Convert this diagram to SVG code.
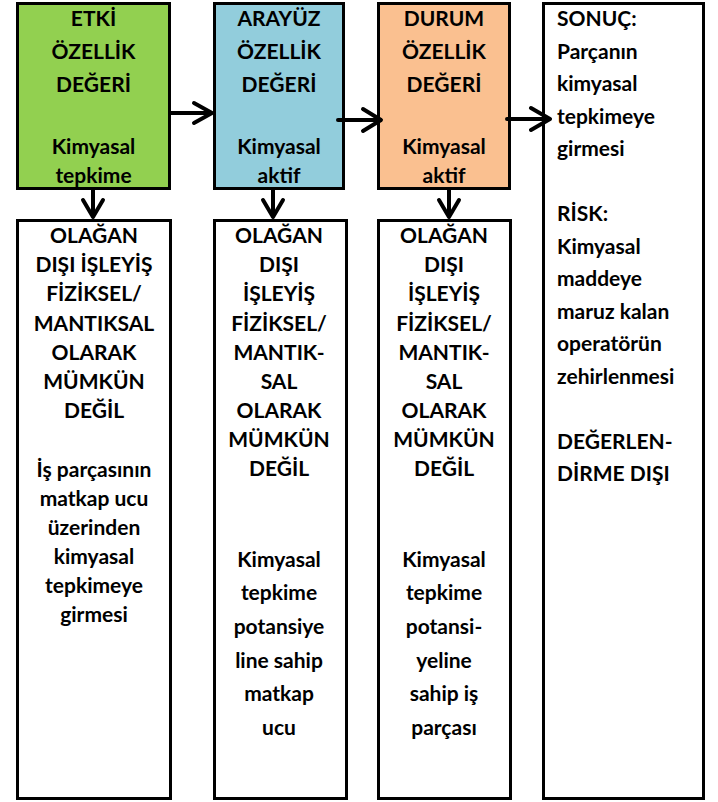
<svg xmlns="http://www.w3.org/2000/svg" width="718" height="802" viewBox="0 0 718 802">
<style>
.box{stroke:#000;stroke-width:3}
.t{font-family:Lato,"Liberation Sans",sans-serif;font-weight:bold;font-size:21px;fill:#000}
.c{text-anchor:middle}
.ar{fill:none;stroke:#000;stroke-width:4;stroke-linecap:round;stroke-linejoin:round}
</style>
<rect x="0" y="0" width="718" height="802" fill="#fff"/>
<g id="etki">
<rect class="box" x="17.5" y="3.5" width="152" height="185" fill="#92D050"/>
<text class="t c" x="93.5"><tspan x="93.5" y="26">ETKİ</tspan><tspan x="93.5" y="59">ÖZELLİK</tspan><tspan x="93.5" y="92">DEĞERİ</tspan><tspan x="93.5" y="154">Kimyasal</tspan><tspan x="93.5" y="183">tepkime</tspan></text>
</g>
<g id="arayuz">
<rect class="box" x="214.5" y="3.5" width="129" height="185" fill="#92CDDC"/>
<text class="t c"><tspan x="279" y="26">ARAYÜZ</tspan><tspan x="279" y="59">ÖZELLİK</tspan><tspan x="279" y="92">DEĞERİ</tspan><tspan x="279" y="154">Kimyasal</tspan><tspan x="279" y="183">aktif</tspan></text>
</g>
<g id="durum">
<rect class="box" x="378.5" y="3.5" width="131" height="185" fill="#FAC090"/>
<text class="t c"><tspan x="444" y="26">DURUM</tspan><tspan x="444" y="59">ÖZELLİK</tspan><tspan x="444" y="92">DEĞERİ</tspan><tspan x="444" y="154">Kimyasal</tspan><tspan x="444" y="183">aktif</tspan></text>
</g>
<g id="sonuc">
<rect class="box" x="543.5" y="3.5" width="160" height="795" fill="#fff"/>
<text class="t"><tspan x="557" y="26">SONUÇ:</tspan><tspan x="557" y="58.5">Parçanın</tspan><tspan x="557" y="91">kimyasal</tspan><tspan x="557" y="123.5">tepkimeye</tspan><tspan x="557" y="156">girmesi</tspan><tspan x="557" y="221">RİSK:</tspan><tspan x="557" y="253.5">Kimyasal</tspan><tspan x="557" y="286">maddeye</tspan><tspan x="557" y="318.5">maruz kalan</tspan><tspan x="557" y="351">operatörün</tspan><tspan x="557" y="383.5">zehirlenmesi</tspan><tspan x="557" y="448.5">DEĞERLEN-</tspan><tspan x="557" y="481">DİRME DIŞI</tspan></text>
</g>
<g id="etki-alt">
<rect class="box" x="17.5" y="220.5" width="153" height="578" fill="#fff"/>
<text class="t c"><tspan x="94" y="243">OLAĞAN</tspan><tspan x="94" y="272">DIŞI İŞLEYİŞ</tspan><tspan x="94" y="301">FİZİKSEL/</tspan><tspan x="94" y="331">MANTIKSAL</tspan><tspan x="94" y="360">OLARAK</tspan><tspan x="94" y="389">MÜMKÜN</tspan><tspan x="94" y="418">DEĞİL</tspan><tspan x="94" y="477">İş parçasının</tspan><tspan x="94" y="506">matkap ucu</tspan><tspan x="94" y="535">üzerinden</tspan><tspan x="94" y="564">kimyasal</tspan><tspan x="94" y="593">tepkimeye</tspan><tspan x="94" y="622">girmesi</tspan></text>
</g>
<g id="arayuz-alt">
<rect class="box" x="214.5" y="220.5" width="132" height="578" fill="#fff"/>
<text class="t c"><tspan x="279" y="243">OLAĞAN</tspan><tspan x="279" y="272">DIŞI</tspan><tspan x="279" y="301">İŞLEYİŞ</tspan><tspan x="279" y="331">FİZİKSEL/</tspan><tspan x="279" y="360">MANTIK-</tspan><tspan x="279" y="389">SAL</tspan><tspan x="279" y="418">OLARAK</tspan><tspan x="279" y="447">MÜMKÜN</tspan><tspan x="279" y="476">DEĞİL</tspan><tspan x="279" y="567">Kimyasal</tspan><tspan x="279" y="600">tepkime</tspan><tspan x="279" y="634">potansiye</tspan><tspan x="279" y="668">line sahip</tspan><tspan x="279" y="701">matkap</tspan><tspan x="279" y="735">ucu</tspan></text>
</g>
<g id="durum-alt">
<rect class="box" x="378.5" y="220.5" width="132" height="578" fill="#fff"/>
<text class="t c"><tspan x="444" y="243">OLAĞAN</tspan><tspan x="444" y="272">DIŞI</tspan><tspan x="444" y="301">İŞLEYİŞ</tspan><tspan x="444" y="331">FİZİKSEL/</tspan><tspan x="444" y="360">MANTIK-</tspan><tspan x="444" y="389">SAL</tspan><tspan x="444" y="418">OLARAK</tspan><tspan x="444" y="447">MÜMKÜN</tspan><tspan x="444" y="476">DEĞİL</tspan><tspan x="444" y="567">Kimyasal</tspan><tspan x="444" y="600">tepkime</tspan><tspan x="444" y="634">potansi-</tspan><tspan x="444" y="668">yeline</tspan><tspan x="444" y="701">sahip iş</tspan><tspan x="444" y="735">parçası</tspan></text>
</g>
<g id="connectors">
<path class="ar" d="M171 113H211M194 103L212 113L194 123"/>
<path class="ar" d="M338 120H380M363 109L381 120L363 131"/>
<path class="ar" d="M507 119H549M531 108L550 119L531 130"/>
<path class="ar" d="M93 190V216M83 200L93 217L103 200"/>
<path class="ar" d="M273 190V216M263 200L273 217L283 200"/>
<path class="ar" d="M449 190V216M439 200L449 217L459 200"/>
</g>
</svg>
